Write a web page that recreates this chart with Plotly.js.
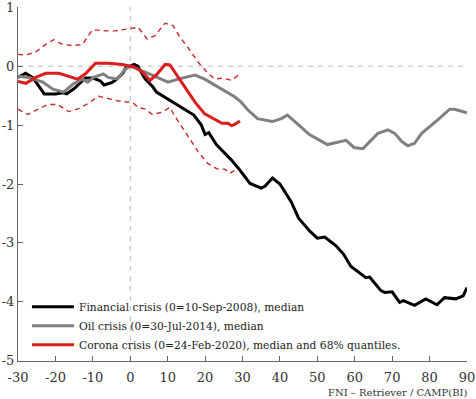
<!DOCTYPE html>
<html><head><meta charset="utf-8">
<script src="https://cdn.plot.ly/plotly-3.0.1.min.js"></script>
<style>html,body{margin:0;padding:0;background:#fff;}#chart{width:476px;height:399px;}</style>
</head><body><div id="chart"></div>
<script>
const finT = [-30,-28,-26,-24,-23,-20,-18,-17,-15,-13,-12,-10,-8,-7,-5,-4,-2,-1,0,1,2,4,6,7,9,12,14,17,19,20,21,23,27,29,32,35,36,38,40,43,45,48,50,52,55,57,59,61,63,64,67,68,70,72,73,76,79,82,84,87,89,90];
const finV = [-0.19,-0.12,-0.2,-0.38,-0.47,-0.47,-0.45,-0.47,-0.38,-0.26,-0.2,-0.2,-0.25,-0.32,-0.28,-0.24,-0.12,0,0,0.03,0,-0.22,-0.35,-0.44,-0.52,-0.64,-0.71,-0.83,-1.0,-1.16,-1.13,-1.33,-1.59,-1.74,-1.99,-2.07,-2.04,-1.9,-2.0,-2.3,-2.58,-2.8,-2.92,-2.9,-3.05,-3.19,-3.4,-3.5,-3.59,-3.58,-3.81,-3.84,-3.83,-4.01,-3.98,-4.06,-3.95,-4.05,-3.93,-3.95,-3.9,-3.76];

const oilT = [-30,-27.1,-23.4,-20.7,-17.8,-15.2,-12.8,-11.4,-9.8,-7.2,-5.9,-3.5,-1.3,0,4,7.4,10.1,12.8,17.3,19.9,22.6,25.3,27.9,29.5,31.4,34,38,40.4,42,44.7,47.9,52.7,55,57.7,59.8,62.2,66.2,68.9,70.7,72.6,74.2,76,77.9,80.6,82.2,85.4,86.7,90];
const oilV = [-0.17,-0.19,-0.27,-0.39,-0.44,-0.3,-0.22,-0.27,-0.19,-0.13,-0.19,-0.22,-0.05,0,-0.1,-0.19,-0.27,-0.22,-0.15,-0.22,-0.32,-0.41,-0.52,-0.6,-0.74,-0.89,-0.94,-0.89,-0.83,-0.98,-1.16,-1.33,-1.3,-1.26,-1.38,-1.4,-1.14,-1.08,-1.14,-1.28,-1.35,-1.31,-1.14,-1.0,-0.91,-0.73,-0.73,-0.79];

const corT = [-30,-27.9,-25.3,-22.6,-19.1,-16.5,-14.1,-12,-9.3,-5.9,-2.1,0,1.3,3.2,5.3,7.2,9.3,10.6,12.8,15.2,17.3,19.9,22.6,24.5,26.1,27.1,27.9,29.3];
const corV = [-0.26,-0.29,-0.19,-0.12,-0.12,-0.17,-0.22,-0.13,0.05,0.05,0.03,0,-0.02,-0.1,-0.24,-0.13,0.03,0.02,-0.19,-0.41,-0.61,-0.81,-0.91,-0.97,-0.97,-1.01,-0.99,-0.93];

const upT = [-30,-27.9,-25.3,-22.6,-20.5,-18.1,-15.4,-12.8,-10.1,-6.6,-4,-0.5,2.1,4.5,6.6,9.3,11.4,13.3,15.4,18.1,20.5,22.6,24.7,27.1,29.3];
const upV = [0.2,0.19,0.24,0.37,0.45,0.37,0.35,0.37,0.62,0.6,0.6,0.64,0.66,0.46,0.52,0.73,0.69,0.49,0.32,0.07,-0.1,-0.22,-0.2,-0.24,-0.13];

const loT = [-30,-27.4,-25.3,-22.1,-19.4,-16.5,-13.8,-11.2,-8.5,-5.9,-3.2,-0.5,0.5,2.1,4,5.9,8.5,10.6,12,13.8,16.5,18.1,20.7,23.1,25.3,26.6,28.7];
const loV = [-0.73,-0.82,-0.75,-0.65,-0.65,-0.77,-0.72,-0.63,-0.51,-0.55,-0.59,-0.61,-0.61,-0.7,-0.73,-0.82,-0.78,-0.7,-0.86,-1.03,-1.28,-1.45,-1.65,-1.74,-1.75,-1.82,-1.74];

const seriesNames = ['Financial crisis (0=10-Sep-2008), median','Oil crisis (0=30-Jul-2014), median','Corona crisis (0=24-Feb-2020), median and 68% quantiles.'];
const xTicks = [-30,-20,-10,0,10,20,30,40,50,60,70,80,90];
const yTicks = [1,0,-1,-2,-3,-4,-5];
const sourceText = 'FNI \u2013 Retriever / CAMP(BI)';

const RED = 'rgb(218,30,30)';
const traces = [
  {x: upT, y: upV, mode:'lines', line:{color:'rgb(205,40,40)', width:1.4, dash:'5px,4px'}, showlegend:false, hoverinfo:'skip'},
  {x: loT, y: loV, mode:'lines', line:{color:'rgb(205,40,40)', width:1.4, dash:'5px,4px'}, showlegend:false, hoverinfo:'skip'},
  {x: finT, y: finV, mode:'lines', name: seriesNames[0], line:{color:'#000', width:3}},
  {x: oilT, y: oilV, mode:'lines', name: seriesNames[1], line:{color:'#808080', width:3}},
  {x: corT, y: corV, mode:'lines', name: seriesNames[2], line:{color:RED, width:3}}
];
const layout = {
  width:476, height:399,
  margin:{l:18, r:9, t:7, b:38},
  paper_bgcolor:'#fff', plot_bgcolor:'#fff',
  font:{family:'"DejaVu Serif", "Liberation Serif", serif', color:'#333', size:13},
  showlegend:true,
  legend:{x:0.02, y:0.005, xanchor:'left', yanchor:'bottom', bgcolor:'rgba(255,255,255,0)', borderwidth:0,
    font:{family:'"DejaVu Serif", serif', size:10.7, color:'#222'}, tracegroupgap:0, itemwidth:42, traceorder:'normal'},
  xaxis:{range:[-30.02,90.02], tickvals:xTicks, ticktext:xTicks.map(String), ticks:'inside', ticklen:5, tickcolor:'#666',
    showline:true, linecolor:'#666', linewidth:1, showgrid:false, zeroline:false, mirror:false,
    ticklabelstandoff:4, ticklabeloverflow:'allow', tickfont:{size:13, color:'#333'}},
  yaxis:{range:[-5.005,1.005], tickvals:yTicks, ticktext:yTicks.map(String), ticks:'inside', ticklen:5, tickcolor:'#666',
    showline:true, linecolor:'#666', linewidth:1, showgrid:false, zeroline:false, mirror:false,
    ticklabeloverflow:'allow', tickfont:{size:13, color:'#333'}},
  shapes:[
    {type:'line', xref:'x', yref:'paper', x0:0, x1:0, y0:0, y1:1, line:{color:'#bbb', width:1, dash:'5px,5px'}, layer:'below'},
    {type:'line', xref:'paper', yref:'y', x0:0, x1:1, y0:0, y1:0, line:{color:'#bbb', width:1, dash:'5px,5px'}, layer:'below'}
  ],
  annotations:[
    {text: sourceText, xref:'paper', yref:'paper', x:1, y:0, xanchor:'right', yanchor:'top', yshift:-24, xshift:2, showarrow:false,
     font:{family:'"DejaVu Serif", serif', size:10, color:'#333'}}
  ]
};
Plotly.newPlot('chart', traces, layout, {staticPlot:true, displayModeBar:false});
</script></body></html>
